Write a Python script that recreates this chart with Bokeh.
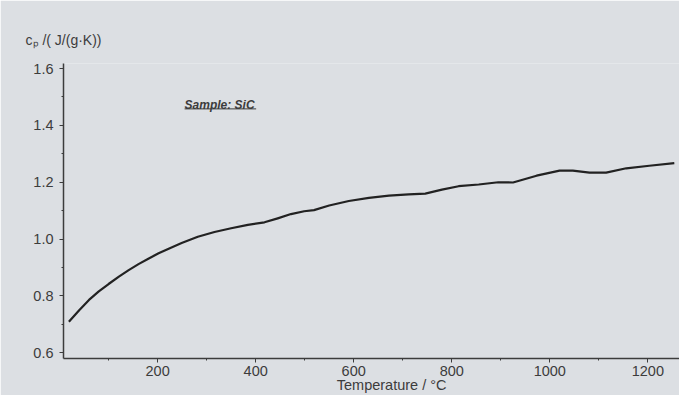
from bokeh.plotting import figure
from bokeh.models import FixedTicker, Label, PrintfTickFormatter, Range1d
from bokeh.embed import file_html
from bokeh.resources import INLINE

# Data
temperature = [19, 40, 60, 80, 100, 121, 141, 161, 182, 202, 226, 249, 282, 316,
               350, 384, 418, 445, 472, 499, 519, 550, 590, 631, 672, 712, 746,
               780, 814, 855, 895, 925, 973, 1020, 1047, 1081, 1115, 1156, 1203, 1254]
cp = [0.709, 0.750, 0.786, 0.816, 0.842, 0.868, 0.891, 0.912, 0.932, 0.950, 0.969,
      0.986, 1.008, 1.025, 1.038, 1.050, 1.059, 1.073, 1.088, 1.098, 1.102, 1.118,
      1.134, 1.145, 1.153, 1.157, 1.160, 1.174, 1.186, 1.192, 1.200, 1.199, 1.223,
      1.241, 1.241, 1.234, 1.234, 1.249, 1.258, 1.267]
x_ticks = [200, 400, 600, 800, 1000, 1200]
x_minor = [100, 300, 500, 700, 900, 1100]
y_ticks = [0.6, 0.8, 1.0, 1.2, 1.4, 1.6]
y_minor = [0.7, 0.9, 1.1, 1.3, 1.5]

BG = "#dcdfe3"
INK = "#3c3c3c"
FONT = "Liberation Sans"

p = figure(width=679, height=395, output_backend="svg", toolbar_location=None,
           x_range=Range1d(8, 1264.6), y_range=Range1d(0.58, 1.6176),
           min_border_left=63, min_border_right=0, min_border_top=63, min_border_bottom=37,
           title="cₚ /( J/(g·K))")
p.background_fill_color = BG
p.border_fill_color = BG
p.outline_line_color = None
p.grid.visible = False

p.title.align = "left"
p.title.offset = -38
p.title.standoff = 31
p.title.text_font = FONT
p.title.text_font_size = "14px"
p.title.text_font_style = "normal"
p.title.text_color = INK

for ax in (p.xaxis[0], p.yaxis[0]):
    ax.axis_line_color = INK
    ax.axis_line_width = 1.5
    ax.major_tick_line_color = INK
    ax.minor_tick_line_color = INK
    ax.major_tick_in = 0
    ax.major_tick_out = 4
    ax.minor_tick_in = 0
    ax.minor_tick_out = 2
    ax.major_label_text_font = FONT
    ax.major_label_text_font_size = "14.5px"
    ax.major_label_text_color = INK

p.xaxis.ticker = FixedTicker(ticks=x_ticks, minor_ticks=x_minor)
p.yaxis.ticker = FixedTicker(ticks=y_ticks, minor_ticks=y_minor)
p.yaxis.formatter = PrintfTickFormatter(format="%.1f")
p.xaxis.major_label_standoff = 3
p.yaxis.major_label_standoff = 6

p.xaxis.axis_label = "\u00a0" * 10 + "Temperature / °C"
p.xaxis.axis_label_text_font = FONT
p.xaxis.axis_label_text_font_size = "14.5px"
p.xaxis.axis_label_text_font_style = "normal"
p.xaxis.axis_label_text_color = INK
p.xaxis.axis_label_standoff = -2

p.line(temperature, cp, line_color="#222222", line_width=2.2, line_join="round")

# Sample annotation
sample_x = [255, 401]
sample_y = 1.47
p.add_layout(Label(x=sample_x[0], y=sample_y, text="Sample: SiC", text_align="left",
                   text_baseline="alphabetic", text_font=FONT, text_font_size="12px",
                   text_font_style="bold italic", text_color=INK))
p.segment(x0=[sample_x[0]], y0=[sample_y - 0.012], x1=[sample_x[1]], y1=[sample_y - 0.012],
          line_color=INK, line_width=1)

open("out.html", "w").write(file_html(p, INLINE))
